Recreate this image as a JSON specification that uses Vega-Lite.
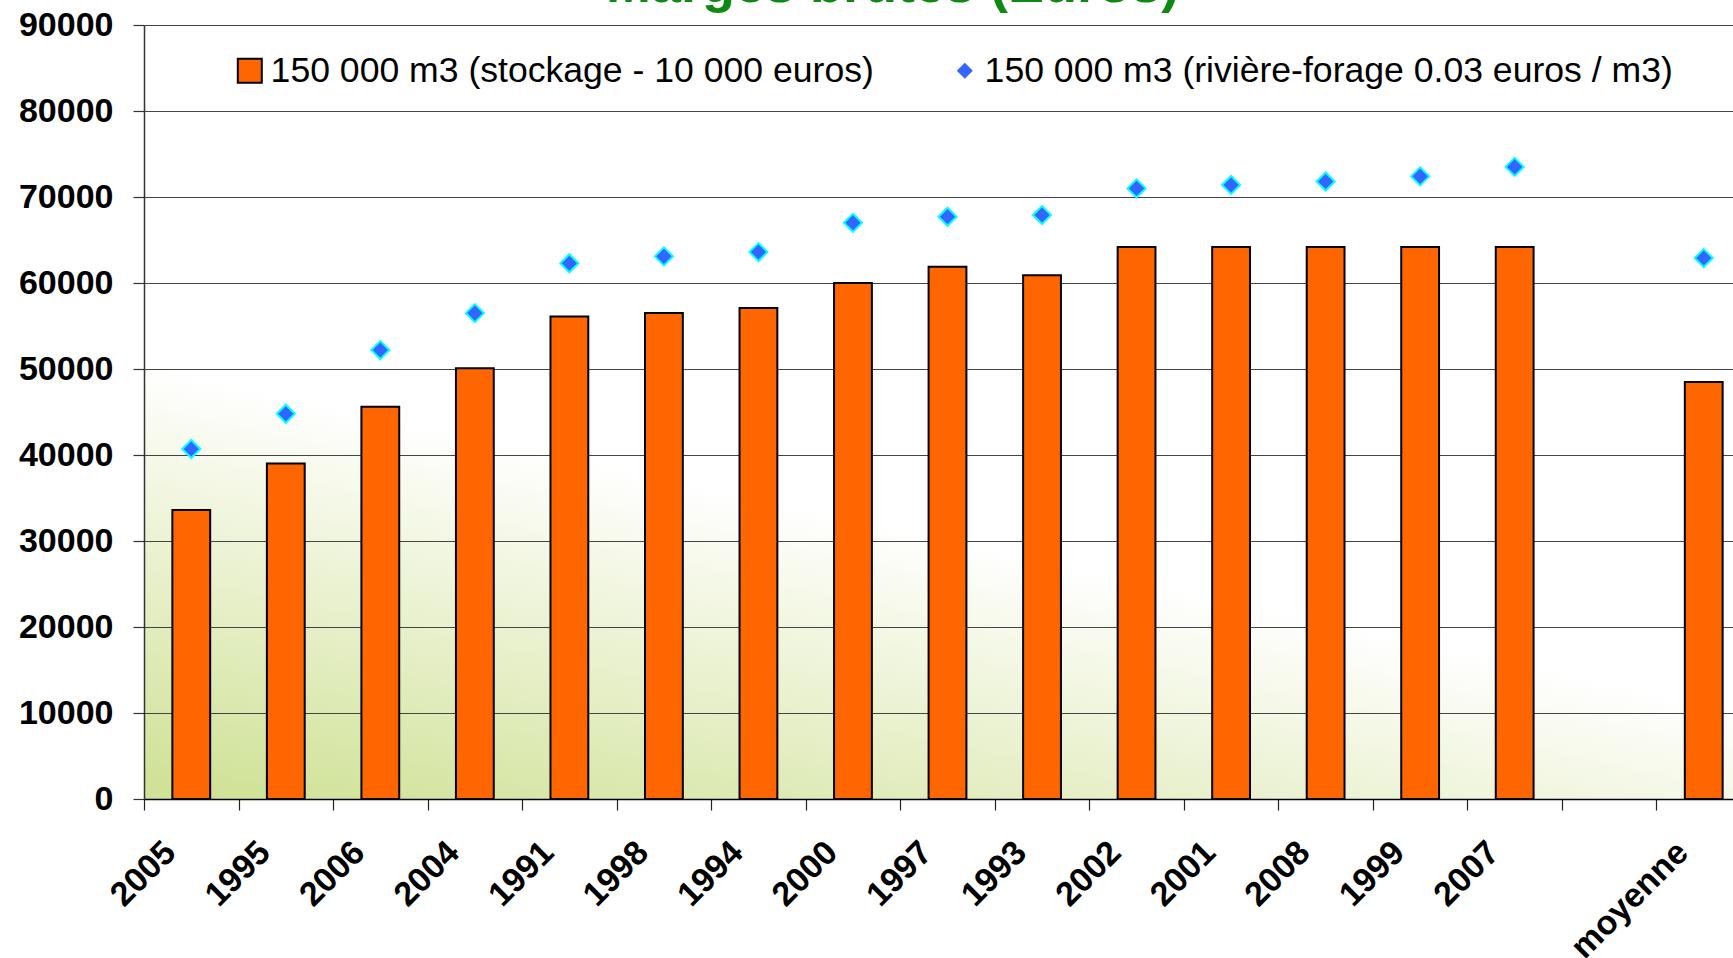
{
  "$schema": "https://vega.github.io/schema/vega-lite/v6.json",
  "width": 1589,
  "height": 774,
  "autosize": {"type": "none"},
  "padding": {"left": 144, "top": 25, "right": 0, "bottom": 159},
  "background": "white",
  "title": {
    "text": "Marges brutes (Euros)",
    "color": "#0c8a12",
    "font": "Liberation Sans",
    "fontSize": 54,
    "fontWeight": "bold",
    "anchor": "start",
    "frame": "group",
    "dx": 462,
    "baseline": "alphabetic",
    "offset": -48
  },
  "data": {
    "values": [
      {"annee": "2005", "serie": "150 000 m3 (stockage - 10 000 euros)", "valeur": 33600},
      {"annee": "1995", "serie": "150 000 m3 (stockage - 10 000 euros)", "valeur": 39000},
      {"annee": "2006", "serie": "150 000 m3 (stockage - 10 000 euros)", "valeur": 45600},
      {"annee": "2004", "serie": "150 000 m3 (stockage - 10 000 euros)", "valeur": 50100},
      {"annee": "1991", "serie": "150 000 m3 (stockage - 10 000 euros)", "valeur": 56100},
      {"annee": "1998", "serie": "150 000 m3 (stockage - 10 000 euros)", "valeur": 56500},
      {"annee": "1994", "serie": "150 000 m3 (stockage - 10 000 euros)", "valeur": 57100},
      {"annee": "2000", "serie": "150 000 m3 (stockage - 10 000 euros)", "valeur": 60000},
      {"annee": "1997", "serie": "150 000 m3 (stockage - 10 000 euros)", "valeur": 61900},
      {"annee": "1993", "serie": "150 000 m3 (stockage - 10 000 euros)", "valeur": 60900},
      {"annee": "2002", "serie": "150 000 m3 (stockage - 10 000 euros)", "valeur": 64200},
      {"annee": "2001", "serie": "150 000 m3 (stockage - 10 000 euros)", "valeur": 64200},
      {"annee": "2008", "serie": "150 000 m3 (stockage - 10 000 euros)", "valeur": 64200},
      {"annee": "1999", "serie": "150 000 m3 (stockage - 10 000 euros)", "valeur": 64200},
      {"annee": "2007", "serie": "150 000 m3 (stockage - 10 000 euros)", "valeur": 64200},
      {"annee": "moyenne", "serie": "150 000 m3 (stockage - 10 000 euros)", "valeur": 48500},
      {"annee": "2005", "serie": "150 000 m3 (rivière-forage 0.03 euros / m3)", "valeur": 40700},
      {"annee": "1995", "serie": "150 000 m3 (rivière-forage 0.03 euros / m3)", "valeur": 44800},
      {"annee": "2006", "serie": "150 000 m3 (rivière-forage 0.03 euros / m3)", "valeur": 52200},
      {"annee": "2004", "serie": "150 000 m3 (rivière-forage 0.03 euros / m3)", "valeur": 56500},
      {"annee": "1991", "serie": "150 000 m3 (rivière-forage 0.03 euros / m3)", "valeur": 62300},
      {"annee": "1998", "serie": "150 000 m3 (rivière-forage 0.03 euros / m3)", "valeur": 63100},
      {"annee": "1994", "serie": "150 000 m3 (rivière-forage 0.03 euros / m3)", "valeur": 63600},
      {"annee": "2000", "serie": "150 000 m3 (rivière-forage 0.03 euros / m3)", "valeur": 67000},
      {"annee": "1997", "serie": "150 000 m3 (rivière-forage 0.03 euros / m3)", "valeur": 67700},
      {"annee": "1993", "serie": "150 000 m3 (rivière-forage 0.03 euros / m3)", "valeur": 67900},
      {"annee": "2002", "serie": "150 000 m3 (rivière-forage 0.03 euros / m3)", "valeur": 71000},
      {"annee": "2001", "serie": "150 000 m3 (rivière-forage 0.03 euros / m3)", "valeur": 71400},
      {"annee": "2008", "serie": "150 000 m3 (rivière-forage 0.03 euros / m3)", "valeur": 71800},
      {"annee": "1999", "serie": "150 000 m3 (rivière-forage 0.03 euros / m3)", "valeur": 72400},
      {"annee": "2007", "serie": "150 000 m3 (rivière-forage 0.03 euros / m3)", "valeur": 73500},
      {"annee": "moyenne", "serie": "150 000 m3 (rivière-forage 0.03 euros / m3)", "valeur": 62900}
    ]
  },
  "encoding": {
    "x": {
      "field": "annee",
      "type": "nominal",
      "sort": null,
      "scale": {
        "domain": ["2005", "1995", "2006", "2004", "1991", "1998", "1994", "2000", "1997", "1993", "2002", "2001", "2008", "1999", "2007", " ", "moyenne"],
        "paddingInner": 0.6,
        "paddingOuter": 0.3,
        "range": [0, 1607]
      },
      "axis": {
        "title": null,
        "labelAngle": -45,
        "labelAlign": "right",
        "labelBaseline": "top",
        "labelFont": "Liberation Sans",
        "labelFontSize": 34,
        "labelFontWeight": "bold",
        "labelColor": "black",
        "tickOffset": -47.25,
        "labelOffset": 14,
        "labelPadding": 25,
        "tickSize": 11,
        "tickColor": "#222",
        "tickWidth": 1.2,
        "domainColor": "black",
        "domainWidth": 1.5,
        "grid": false,
        "labelOverlap": false,
        "labelBound": false
      }
    },
    "y": {
      "field": "valeur",
      "type": "quantitative",
      "scale": {"domain": [0, 90000], "nice": false},
      "axis": {
        "title": null,
        "values": [0, 10000, 20000, 30000, 40000, 50000, 60000, 70000, 80000, 90000],
        "format": "d",
        "labelFont": "Liberation Sans",
        "labelFontSize": 34,
        "labelFontWeight": "bold",
        "labelColor": "black",
        "labelPadding": 20,
        "tickSize": 11,
        "tickColor": "#333",
        "tickWidth": 1.2,
        "domainColor": "#333",
        "domainWidth": 1.5,
        "grid": true,
        "gridColor": "#444",
        "gridWidth": 1.2
      }
    }
  },
  "layer": [
    {
      "transform": [{"filter": "datum.serie === '150 000 m3 (stockage - 10 000 euros)'"}],
      "mark": {"type": "bar", "stroke": "black", "strokeWidth": 2},
      "encoding": {
        "fill": {
          "field": "serie",
          "type": "nominal",
          "scale": {
            "domain": ["150 000 m3 (stockage - 10 000 euros)"],
            "range": ["#FF6600"]
          },
          "legend": {
            "orient": "none",
            "legendX": 88,
            "legendY": 28,
            "title": null,
            "labelFont": "Liberation Sans",
            "labelFontSize": 35.6,
            "labelColor": "black",
            "labelLimit": 0,
            "labelOffset": 3,
            "symbolType": "square",
            "symbolSize": 576,
            "symbolStrokeColor": "black",
            "symbolStrokeWidth": 2,
            "symbolOpacity": 1
          }
        }
      }
    },
    {
      "transform": [{"filter": "datum.serie !== '150 000 m3 (stockage - 10 000 euros)'"}],
      "mark": {"type": "point", "filled": true, "fill": "#3366FF", "size": 324, "stroke": "#00FFFF", "strokeWidth": 2, "opacity": 1},
      "encoding": {
        "shape": {
          "field": "serie",
          "type": "nominal",
          "scale": {
            "domain": ["150 000 m3 (rivière-forage 0.03 euros / m3)"],
            "range": ["diamond"]
          },
          "legend": {
            "orient": "none",
            "legendX": 803,
            "legendY": 28,
            "title": null,
            "labelFont": "Liberation Sans",
            "labelFontSize": 35.6,
            "labelColor": "black",
            "labelLimit": 0,
            "labelOffset": 2,
            "symbolSize": 256,
            "symbolFillColor": "#3366FF",
            "symbolStrokeColor": "#00FFFF",
            "symbolStrokeWidth": 2,
            "symbolOpacity": 1
          }
        }
      }
    }
  ],
  "config": {
    "view": {
      "stroke": null,
      "fill": {
        "gradient": "linear",
        "x1": 0.05, "y1": 1, "x2": 0.25, "y2": 0.55,
        "stops": [
          {"offset": 0, "color": "#cfe296"},
          {"offset": 0.5, "color": "#e8f0cb"},
          {"offset": 1, "color": "#ffffff"}
        ]
      }
    }
  }
}
